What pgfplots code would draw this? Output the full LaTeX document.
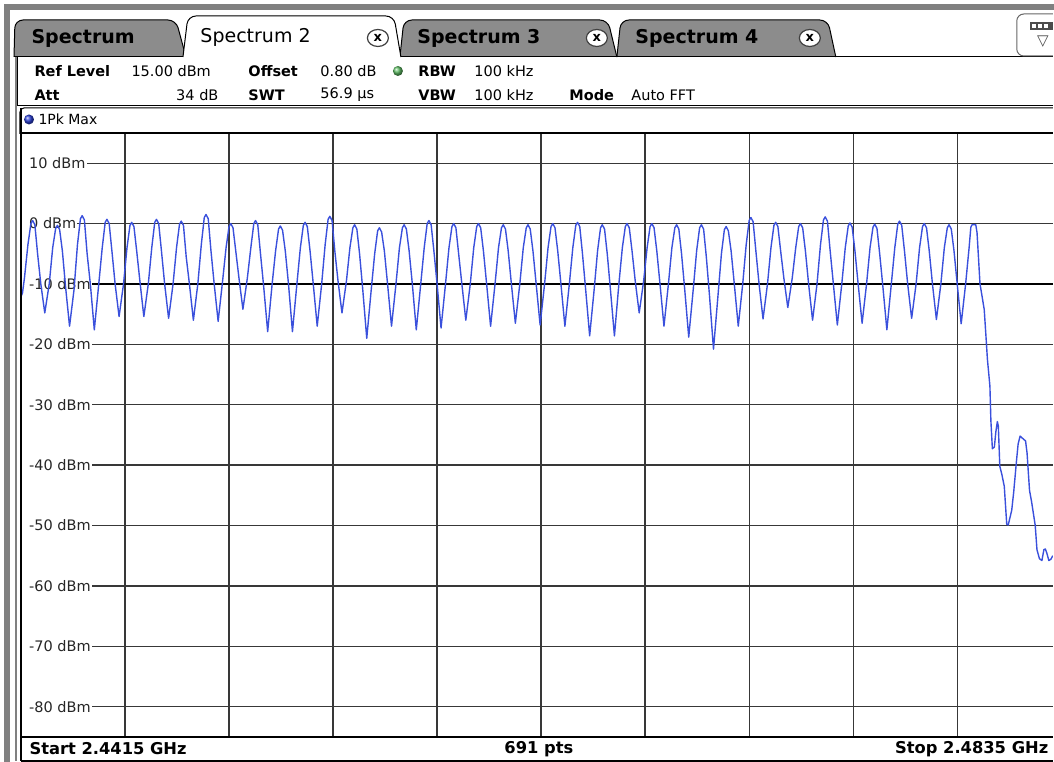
\documentclass[border=0pt]{standalone}
\usepackage{pgfplots}
\pgfplotsset{compat=1.18}
\usepackage{fontspec}
\setmainfont{DejaVu Sans}
\definecolor{tabgray}{HTML}{8C8C8C}
\definecolor{framegray}{HTML}{808080}
\definecolor{tracec}{HTML}{3A50DC}
\definecolor{gridc}{HTML}{383838}
\definecolor{led}{HTML}{5DBB63}
\definecolor{dotblue}{HTML}{2A3FD8}
\newcommand\hdr{\fontsize{14.5}{17}\selectfont}
\newcommand\tabf{\fontsize{19}{22}\selectfont}
\newcommand\botf{\bfseries\fontsize{16.3}{18}\selectfont}
\begin{document}
\begin{tikzpicture}
\begin{scope}[x=1pt,y=-1pt]
\path (0,0) rectangle (1054,762);
% outer grey frame
\fill[framegray] (4,4) rectangle (1054,10);
\fill[framegray] (4,4) rectangle (10,762);
\draw[framegray, line width=1.3pt] (16,57) -- (16,761);
% inactive tabs
\draw[black, fill=tabgray, line width=1pt, rounded corners=8pt] (14,57) -- (15,20) -- (176,20) -- (186,57);
\draw[black, fill=tabgray, line width=1pt, rounded corners=8pt] (400,57) -- (404,20) -- (608,20) -- (617,57);
\draw[black, fill=tabgray, line width=1pt, rounded corners=8pt] (617,57) -- (621,20) -- (828,20) -- (836,57);
% active tab
\fill[white, rounded corners=8pt] (183,58) -- (188,16) -- (394,16) -- (401,58);
\draw[black, line width=1pt, rounded corners=8pt] (183,57) -- (188,16) -- (394,16) -- (401,57);
% baseline of tabs
\draw[black, line width=1pt] (14,57) -- (183,57);
\draw[black, line width=1pt] (401,57) -- (1053,57);
% tab labels
\node[anchor=west, font=\tabf\bfseries] at (28,38) {Spectrum};
\node[anchor=west, font=\tabf] at (197,37) {Spectrum 2};
\node[anchor=west, font=\tabf\bfseries] at (414,38) {Spectrum 3};
\node[anchor=west, font=\tabf\bfseries] at (632,38) {Spectrum 4};
% close buttons
\foreach \cx in {378,597,810}{
  \draw[fill=white, draw=black!75, line width=1.2pt] (\cx,38) ellipse (10.5 and 8.5);
  \node[font=\bfseries\fontsize{13}{13}\selectfont] at (\cx,37.5) {x};
}
% right icon
\draw[black!60, fill=white, line width=1pt, rounded corners=7pt] (1053,14) -- (1017,14) -- (1017,56) -- (1053,56);
\fill[black!70] (1030,22) rectangle (1053,30);
\fill[white] (1032,24) rectangle (1036,28);
\fill[white] (1038,24) rectangle (1042,28);
\fill[white] (1044,24) rectangle (1048,28);
\node[font=\fontsize{15}{15}\selectfont, text=black!70] at (1043,42) {▽};
% header panel
\draw[black, line width=1pt] (18,57) -- (18,106) -- (1053,106);
\node[anchor=west, font=\hdr\bfseries] at (31,71) {Ref Level};
\node[anchor=west, font=\hdr] at (128,71) {15.00 dBm};
\node[anchor=west, font=\hdr\bfseries] at (245,71) {Offset};
\node[anchor=west, font=\hdr] at (317,71) {0.80 dB};
\shade[ball color=led] (398,71) circle (5);
\node[anchor=west, font=\hdr\bfseries] at (415,71) {RBW};
\node[anchor=west, font=\hdr] at (471,71) {100 kHz};
\node[anchor=west, font=\hdr\bfseries] at (31,95) {Att};
\node[anchor=east, font=\hdr] at (222,95) {34 dB};
\node[anchor=west, font=\hdr\bfseries] at (245,95) {SWT};
\node[anchor=west, font=\hdr] at (317,95) {56.9 µs};
\node[anchor=west, font=\hdr\bfseries] at (415,95) {VBW};
\node[anchor=west, font=\hdr] at (471,95) {100 kHz};
\node[anchor=west, font=\hdr\bfseries] at (566,95) {Mode};
\node[anchor=west, font=\hdr] at (628,95) {Auto FFT};
% trace label box
\draw[black, line width=1pt, rounded corners=4pt] (20,134) -- (20,108) -- (1053,108);
\shade[ball color=dotblue] (29,119.5) circle (5);
\node[anchor=west, font=\fontsize{14}{16}\selectfont] at (35,119.5) {1Pk Max};
% bottom bar
\node[anchor=west, font=\botf] at (26,749) {Start 2.4415 GHz};
\node[font=\botf] at (539,749) {691 pts};
\node[anchor=east, font=\botf] at (1052,749) {Stop 2.4835 GHz};
\end{scope}
\begin{axis}[
  at={(21pt,-133pt)}, anchor=north west,
  scale only axis, width=1032pt, height=604pt,
  set layers,
  xmin=2441.5, xmax=2483.16, ymin=-85, ymax=15,
  xtick={2445.7,2449.9,2454.1,2458.3,2462.5,2466.7,2470.9,2475.1,2479.3},
  xticklabels={},
  ytick={-80,-70,-60,-50,-40,-30,-20,-10,0,10},
  yticklabels={-80 dBm,-70 dBm,-60 dBm,-50 dBm,-40 dBm,-30 dBm,-20 dBm,-10 dBm,0 dBm,10 dBm},
  yticklabel style={anchor=west, xshift=1pt, fill=white, inner xsep=1pt, inner ysep=1pt,
     font=\fontsize{14.5}{17}\selectfont, text=black!85,
     execute at begin node={\hspace*{6pt}}},
  major tick length=0pt,
  grid=major,
  major grid style={gridc, line width=1.3pt},
  extra y ticks={-10},
  extra y tick labels={},
  extra y tick style={major grid style={black, line width=2.4pt}, yticklabel style={fill=none}},
  axis line style={draw=none},
]
\addplot[tracec, line width=1.4pt, line join=round, mark=none] coordinates {
(2441.50,-15.8) (2441.51,-12.0) (2441.56,-11.5) (2441.64,-9) (2441.78,-3.5) (2441.90,0.0) (2441.97,0.5) (2442.06,-0.2) (2442.17,-5) (2442.30,-10) (2442.46,-14.8)
(2442.64,-10) (2442.78,-4) (2442.90,-0.8) (2442.97,-0.3) (2443.06,-1.0) (2443.17,-4.5) (2443.30,-10.5) (2443.46,-17.0)
(2443.64,-11) (2443.78,-3.5) (2443.90,0.8) (2443.97,1.3) (2444.06,0.6) (2444.17,-5) (2444.30,-10) (2444.46,-17.6)
(2444.64,-10) (2444.78,-4) (2444.90,0.2) (2444.97,0.7) (2445.06,0.0) (2445.17,-4.5) (2445.30,-10) (2445.46,-15.4)
(2445.64,-10) (2445.78,-4) (2445.90,-0.3) (2445.97,0.2) (2446.06,-0.5) (2446.17,-4.5) (2446.30,-9.5) (2446.46,-15.4)
(2446.64,-10) (2446.78,-4) (2446.90,0.2) (2446.97,0.7) (2447.06,0.0) (2447.17,-4.5) (2447.30,-10) (2447.46,-15.7)
(2447.64,-10) (2447.78,-4) (2447.90,-0.1) (2447.97,0.4) (2448.06,-0.3) (2448.17,-5.5) (2448.30,-10) (2448.46,-16.0)
(2448.64,-10) (2448.78,-3.5) (2448.90,1.0) (2448.97,1.5) (2449.06,0.8) (2449.17,-4.5) (2449.30,-10) (2449.46,-16.2)
(2449.64,-9.5) (2449.78,-4) (2449.90,-0.5) (2449.97,0.0) (2450.06,-0.7) (2450.17,-4.5) (2450.30,-9) (2450.46,-14.2)
(2450.64,-9) (2450.78,-4) (2450.90,0.0) (2450.97,0.5) (2451.06,-0.2) (2451.17,-5) (2451.30,-10.5) (2451.46,-17.9)
(2451.64,-10) (2451.78,-4.5) (2451.90,-0.9) (2451.97,-0.4) (2452.06,-1.1) (2452.17,-4.5) (2452.30,-10) (2452.46,-17.9)
(2452.64,-10) (2452.78,-4) (2452.90,-0.3) (2452.97,0.2) (2453.06,-0.5) (2453.17,-4.5) (2453.30,-10) (2453.46,-17.0)
(2453.64,-10) (2453.78,-3.5) (2453.90,0.7) (2453.97,1.2) (2454.06,0.5) (2454.17,-4.5) (2454.30,-9.5) (2454.46,-14.8)
(2454.64,-9.5) (2454.78,-4) (2454.90,-0.7) (2454.97,-0.2) (2455.06,-0.9) (2455.17,-5) (2455.30,-11) (2455.46,-19.0)
(2455.64,-11) (2455.78,-5) (2455.90,-1.2) (2455.97,-0.7) (2456.06,-1.4) (2456.17,-4.5) (2456.30,-10) (2456.46,-17.0)
(2456.64,-10) (2456.78,-4) (2456.90,-0.7) (2456.97,-0.2) (2457.06,-0.9) (2457.17,-4.5) (2457.30,-10) (2457.46,-17.6)
(2457.64,-10) (2457.78,-4) (2457.90,0.0) (2457.97,0.5) (2458.06,-0.2) (2458.17,-4.5) (2458.30,-10) (2458.46,-17.3)
(2458.64,-10) (2458.78,-4) (2458.90,-0.5) (2458.97,0.0) (2459.06,-0.7) (2459.17,-5) (2459.30,-10) (2459.46,-16.0)
(2459.64,-10) (2459.78,-4) (2459.90,-0.5) (2459.97,0.0) (2460.06,-0.7) (2460.17,-4.5) (2460.30,-10) (2460.46,-17.0)
(2460.64,-10) (2460.78,-4) (2460.90,-0.7) (2460.97,-0.2) (2461.06,-0.9) (2461.17,-4.5) (2461.30,-10) (2461.46,-16.5)
(2461.64,-10) (2461.78,-4) (2461.90,-0.7) (2461.97,-0.2) (2462.06,-0.9) (2462.17,-4.5) (2462.30,-10) (2462.46,-16.8)
(2462.64,-10) (2462.78,-4) (2462.90,-0.5) (2462.97,0.0) (2463.06,-0.7) (2463.17,-4.5) (2463.30,-10) (2463.46,-17.0)
(2463.64,-10) (2463.78,-4) (2463.90,-0.3) (2463.97,0.2) (2464.06,-0.5) (2464.17,-5) (2464.30,-11) (2464.46,-18.6)
(2464.64,-11) (2464.78,-4.5) (2464.90,-0.7) (2464.97,-0.2) (2465.06,-0.9) (2465.17,-5) (2465.30,-11) (2465.46,-18.6)
(2465.64,-10) (2465.78,-4) (2465.90,-0.5) (2465.97,0.0) (2466.06,-0.7) (2466.17,-4.5) (2466.30,-9.5) (2466.46,-14.8)
(2466.64,-9.5) (2466.78,-4) (2466.90,-0.5) (2466.97,0.0) (2467.06,-0.7) (2467.17,-4.5) (2467.30,-10) (2467.46,-17.0)
(2467.64,-10) (2467.78,-4) (2467.90,-0.7) (2467.97,-0.2) (2468.06,-0.9) (2468.17,-5) (2468.30,-11) (2468.46,-18.8)
(2468.64,-11) (2468.78,-4.5) (2468.90,-0.7) (2468.97,-0.2) (2469.06,-0.9) (2469.17,-5.5) (2469.30,-12) (2469.46,-20.8)
(2469.64,-12) (2469.78,-5) (2469.90,-1.0) (2469.97,-0.5) (2470.06,-1.2) (2470.17,-4.5) (2470.30,-10) (2470.46,-17.0)
(2470.64,-10) (2470.78,-3.5) (2470.90,0.5) (2470.97,1.0) (2471.06,0.3) (2471.17,-4.5) (2471.30,-10) (2471.46,-15.8)
(2471.64,-10) (2471.78,-4) (2471.90,-0.3) (2471.97,0.2) (2472.06,-0.5) (2472.17,-4.5) (2472.30,-9) (2472.46,-13.9)
(2472.64,-9) (2472.78,-4) (2472.90,-0.5) (2472.97,0.0) (2473.06,-0.7) (2473.17,-4.5) (2473.30,-10) (2473.46,-16.0)
(2473.64,-10) (2473.78,-3.5) (2473.90,0.6) (2473.97,1.1) (2474.06,0.4) (2474.17,-4.5) (2474.30,-10) (2474.46,-16.8)
(2474.64,-10) (2474.78,-4) (2474.90,-0.4) (2474.97,0.1) (2475.06,-0.6) (2475.17,-4.5) (2475.30,-10) (2475.46,-16.5)
(2475.64,-10) (2475.78,-4) (2475.90,-0.6) (2475.97,-0.1) (2476.06,-0.8) (2476.17,-5) (2476.30,-10.5) (2476.46,-17.6)
(2476.64,-10) (2476.78,-4) (2476.90,-0.1) (2476.97,0.4) (2477.06,-0.3) (2477.17,-4.5) (2477.30,-10) (2477.46,-15.7)
(2477.64,-10) (2477.78,-4) (2477.90,-0.5) (2477.97,0.0) (2478.06,-0.7) (2478.17,-4.5) (2478.30,-10) (2478.46,-15.9)
(2478.64,-10) (2478.78,-4) (2478.90,-0.7) (2478.97,-0.2) (2479.06,-0.9) (2479.17,-4.5) (2479.30,-10) (2479.46,-16.6)
(2479.64,-10) (2479.78,-4) (2479.85,-0.6) (2479.90,-0.2) (2480.05,-0.2) (2480.10,-1.5) (2480.15,-5) (2480.22,-10)
(2480.39,-14.2) (2480.46,-18.6) (2480.52,-22.5) (2480.62,-26.9) (2480.66,-32.7) (2480.72,-37.3) (2480.80,-37.0)
(2480.86,-34.5) (2480.92,-32.8) (2480.96,-33.5) (2481.02,-40.2) (2481.10,-41.5) (2481.20,-43.5) (2481.30,-49.8)
(2481.36,-49.9) (2481.50,-47.5) (2481.58,-44.5) (2481.70,-39) (2481.76,-36.5) (2481.84,-35.2) (2481.92,-35.5)
(2482.06,-36) (2482.12,-38) (2482.22,-44.2) (2482.30,-46) (2482.45,-50) (2482.52,-54) (2482.62,-55.5)
(2482.72,-55.8) (2482.80,-54) (2482.86,-53.9) (2482.92,-54.6) (2483.00,-55.8) (2483.08,-55.6) (2483.16,-55.0)
};
\end{axis}
\begin{scope}[x=1pt,y=-1pt]
\draw[black, line width=1.8pt] (21,133) -- (1053,133);
\draw[black, line width=2pt] (21,108) -- (21,761);
\draw[black, line width=1.5pt] (21,737) -- (1053,737);
\draw[black, line width=1.5pt] (21,761) -- (1053,761);
\end{scope}
\end{tikzpicture}
\end{document}
